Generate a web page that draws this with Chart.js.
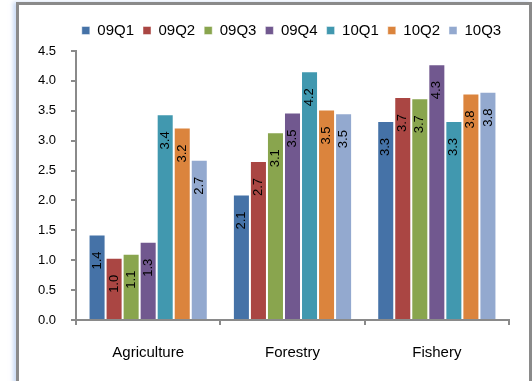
<!DOCTYPE html>
<html>
<head>
<meta charset="utf-8">
<script src="https://cdn.jsdelivr.net/npm/chart.js@4.4.1/dist/chart.umd.min.js"></script>
<style>
  html, body { margin: 0; padding: 0; background: #fff; }
  #wrap { position: relative; width: 532px; height: 381px; overflow: hidden; }
  #frame {
    position: absolute; left: 16px; top: 2px; width: 510px; height: 400px;
    border: 3px solid #8a8a8a; border-bottom: none; background: #fff;
    box-shadow: -3px 0 4px rgba(160, 190, 235, 0.55);
  }
  #chart { position: absolute; left: 0; top: 0; }
</style>
</head>
<body>
<div id="wrap">
  <div id="frame"></div>
  <canvas id="chart" width="532" height="381"></canvas>
</div>
<script>
// Sectors on the category axis
const categories = ['Agriculture', 'Forestry', 'Fishery'];

// Quarterly series, one value per sector
const quarters = ['09Q1', '09Q2', '09Q3', '09Q4', '10Q1', '10Q2', '10Q3'];
const q09Q1 = [1.43, 2.10, 3.33];
const q09Q2 = [1.04, 2.66, 3.73];
const q09Q3 = [1.11, 3.14, 3.71];
const q09Q4 = [1.31, 3.47, 4.28];
const q10Q1 = [3.44, 4.16, 3.33];
const q10Q2 = [3.22, 3.52, 3.79];
const q10Q3 = [2.68, 3.46, 3.82];
const seriesValues = [q09Q1, q09Q2, q09Q3, q09Q4, q10Q1, q10Q2, q10Q3];

// Value axis ticks
const yTicks = [0, 0.5, 1.0, 1.5, 2.0, 2.5, 3.0, 3.5, 4.0, 4.5];

const palette = ['#4572A7', '#AA4643', '#89A54E', '#71588F', '#4198AF', '#DB843D', '#93A9CF'];
const FONT = '"Liberation Sans", Arial, sans-serif';

// Rotated value labels placed inside the top of each bar
const barValueLabels = {
  id: 'barValueLabels',
  afterDatasetsDraw(chart) {
    const ctx = chart.ctx;
    ctx.save();
    ctx.font = '13px ' + FONT;
    ctx.fillStyle = '#000';
    ctx.textAlign = 'center';
    ctx.textBaseline = 'middle';
    chart.data.datasets.forEach((ds, di) => {
      const meta = chart.getDatasetMeta(di);
      meta.data.forEach((bar, i) => {
        const v = ds.data[i];
        ctx.save();
        ctx.translate(bar.x, bar.y + 26);
        ctx.rotate(-Math.PI / 2);
        ctx.fillText(v.toFixed(1), 0, 0);
        ctx.restore();
      });
    });
    ctx.restore();
  }
};

// Center the legend over the plot area and lift it slightly
const legendOverPlot = {
  id: 'legendOverPlot',
  afterLayout(chart) {
    const lg = chart.legend;
    if (lg) {
      const ca = chart.chartArea;
      const cx = (ca.left + ca.right) / 2 - 1;
      const w = 470;
      lg.left = cx - w / 2;
      lg.right = cx + w / 2;
      lg.width = w;
      lg.top -= 3;
      lg.bottom -= 3;
    }
  }
};

new Chart(document.getElementById('chart'), {
  type: 'bar',
  data: {
    labels: categories,
    datasets: quarters.map((q, i) => ({
      label: q,
      data: seriesValues[i],
      backgroundColor: palette[i],
      borderColor: 'rgba(255,255,255,0.45)',
      borderWidth: 1,
      categoryPercentage: 0.826,
      barPercentage: 1.0
    }))
  },
  options: {
    responsive: false,
    animation: false,
    devicePixelRatio: 1,
    layout: { padding: { left: 36, right: 23, top: 17, bottom: 0 } },
    plugins: {
      legend: {
        position: 'top',
        labels: {
          font: { family: FONT, size: 15 },
          color: '#000',
          boxWidth: 8,
          boxHeight: 8,
          padding: 9
        }
      },
      tooltip: { enabled: false }
    },
    scales: {
      x: {
        grid: { display: true, drawOnChartArea: false, drawTicks: true, tickLength: 5, color: '#8a8a8a', lineWidth: 2, offset: true },
        border: { display: true, color: '#8a8a8a', width: 2 },
        ticks: { font: { family: FONT, size: 15 }, color: '#000', padding: 19 },
        afterFit(s) { s.height = 61; }
      },
      y: {
        min: 0,
        max: 4.5,
        afterBuildTicks(s) { s.ticks = yTicks.map(v => ({ value: v })); },
        grid: { display: true, drawOnChartArea: false, drawTicks: true, tickLength: 5, color: '#8a8a8a', lineWidth: 2 },
        border: { display: true, color: '#8a8a8a', width: 2 },
        ticks: { font: { family: FONT, size: 13 }, color: '#000', padding: 15, callback: v => Number(v).toFixed(1) },
        afterFit(s) { s.width = 40; }
      }
    }
  },
  plugins: [barValueLabels, legendOverPlot]
});
</script>
</body>
</html>
